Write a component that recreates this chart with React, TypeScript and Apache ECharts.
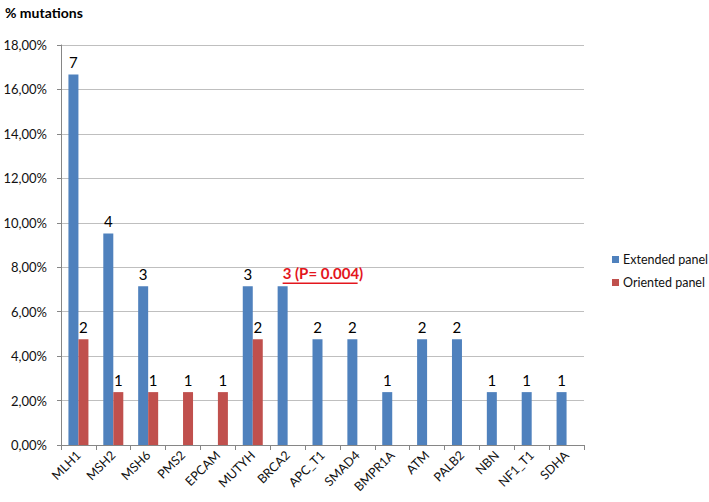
import React, { useEffect, useRef } from "react";
import * as echarts from "echarts";

const categories = ["MLH1", "MSH2", "MSH6", "PMS2", "EPCAM", "MUTYH", "BRCA2", "APC_T1", "SMAD4", "BMPR1A", "ATM", "PALB2", "NBN", "NF1_T1", "SDHA"];
const extendedPct = [16.67, 9.52, 7.14, null, null, 7.14, 7.14, 4.76, 4.76, 2.38, 4.76, 4.76, 2.38, 2.38, 2.38];
const extendedCounts = [7, 4, 3, null, null, 3, 3, 2, 2, 1, 2, 2, 1, 1, 1];
const orientedPct = [4.76, 2.38, 2.38, 2.38, 2.38, 4.76, null, null, null, null, null, null, null, null, null];
const orientedCounts = [2, 1, 1, 1, 1, 2, null, null, null, null, null, null, null, null, null];
const highlightCategory = "BRCA2";
const highlightNote = "3 (P= 0.004)";
const yMin = 0;
const yMax = 18;
const yStep = 2;

const FONT = "Lato, 'Open Sans', sans-serif";

export default function App() {
  const ref = useRef<HTMLDivElement>(null);
  useEffect(() => {
    if (!ref.current) return;
    const chart = echarts.init(ref.current, null, { renderer: "svg" });
    const hiIdx = categories.indexOf(highlightCategory);
    const extData = extendedPct.map((v, i) => {
      if (i === hiIdx) {
        return {
          value: v,
          label: {
            show: true,
            align: "left",
            distance: 1,
            formatter: "{t|" + highlightNote + "}\n{u| }",
            rich: {
              t: { color: "#e3161d", fontWeight: "bold", fontSize: 15, fontFamily: FONT, lineHeight: 16 },
              u: { backgroundColor: "#e3161d", width: 75, height: 1.5, lineHeight: 4, fontSize: 1 },
            },
          },
        };
      }
      return v;
    });
    const option: any = {
      animation: false,
      backgroundColor: "#ffffff",
      textStyle: { fontFamily: FONT },
      title: {
        text: "% mutations",
        left: 0,
        top: 0,
        textStyle: { fontSize: 14, fontWeight: "bold", color: "#000", fontFamily: FONT },
      },
      legend: {
        orient: "vertical",
        left: 607,
        top: 248,
        itemWidth: 7,
        itemHeight: 7,
        itemGap: 10,
        icon: "rect",
        textStyle: { fontSize: 12.5, color: "#111", fontFamily: FONT, padding: [0, 0, 0, -1] },
        data: ["Extended panel", "Oriented panel"],
      },
      grid: { left: 61, right: 125, top: 45, bottom: 57, containLabel: false },
      xAxis: {
        type: "category",
        data: categories,
        axisLine: { lineStyle: { color: "#868686" } },
        axisTick: { show: true, length: 5, lineStyle: { color: "#868686" } },
        axisLabel: { rotate: 45, margin: 8, fontSize: 12.5, color: "#111", fontFamily: FONT, interval: 0 },
      },
      yAxis: {
        type: "value",
        min: yMin,
        max: yMax,
        interval: yStep,
        axisLine: { show: true, lineStyle: { color: "#868686" } },
        axisTick: { show: true, length: 4, lineStyle: { color: "#868686" } },
        splitLine: { lineStyle: { color: "#bfbfbf" } },
        axisLabel: {
          fontSize: 13,
          color: "#111",
          margin: 14,
          fontFamily: FONT,
          formatter: (v: number) => v.toFixed(2).replace(".", ",") + "%",
        },
      },
      series: [
        {
          name: "Extended panel",
          type: "bar",
          data: extData,
          barWidth: 10,
          barGap: "0%",
          itemStyle: { color: "#4f81bd" },
          label: {
            show: true,
            position: "top",
            distance: 5,
            fontSize: 15,
            color: "#000",
            fontFamily: FONT,
            formatter: (p: any) => (extendedCounts[p.dataIndex] == null ? "" : String(extendedCounts[p.dataIndex])),
          },
        },
        {
          name: "Oriented panel",
          type: "bar",
          data: orientedPct,
          barWidth: 10,
          barGap: "0%",
          itemStyle: { color: "#c0504d" },
          label: {
            show: true,
            position: "top",
            distance: 5,
            fontSize: 15,
            color: "#000",
            fontFamily: FONT,
            formatter: (p: any) => (orientedCounts[p.dataIndex] == null ? "" : String(orientedCounts[p.dataIndex])),
          },
        },
      ],
    };
    chart.setOption(option);
    return () => chart.dispose();
  }, []);
  return <div ref={ref} style={{ position: "absolute", left: 0, top: 0, width: 709, height: 502 }} />;
}
